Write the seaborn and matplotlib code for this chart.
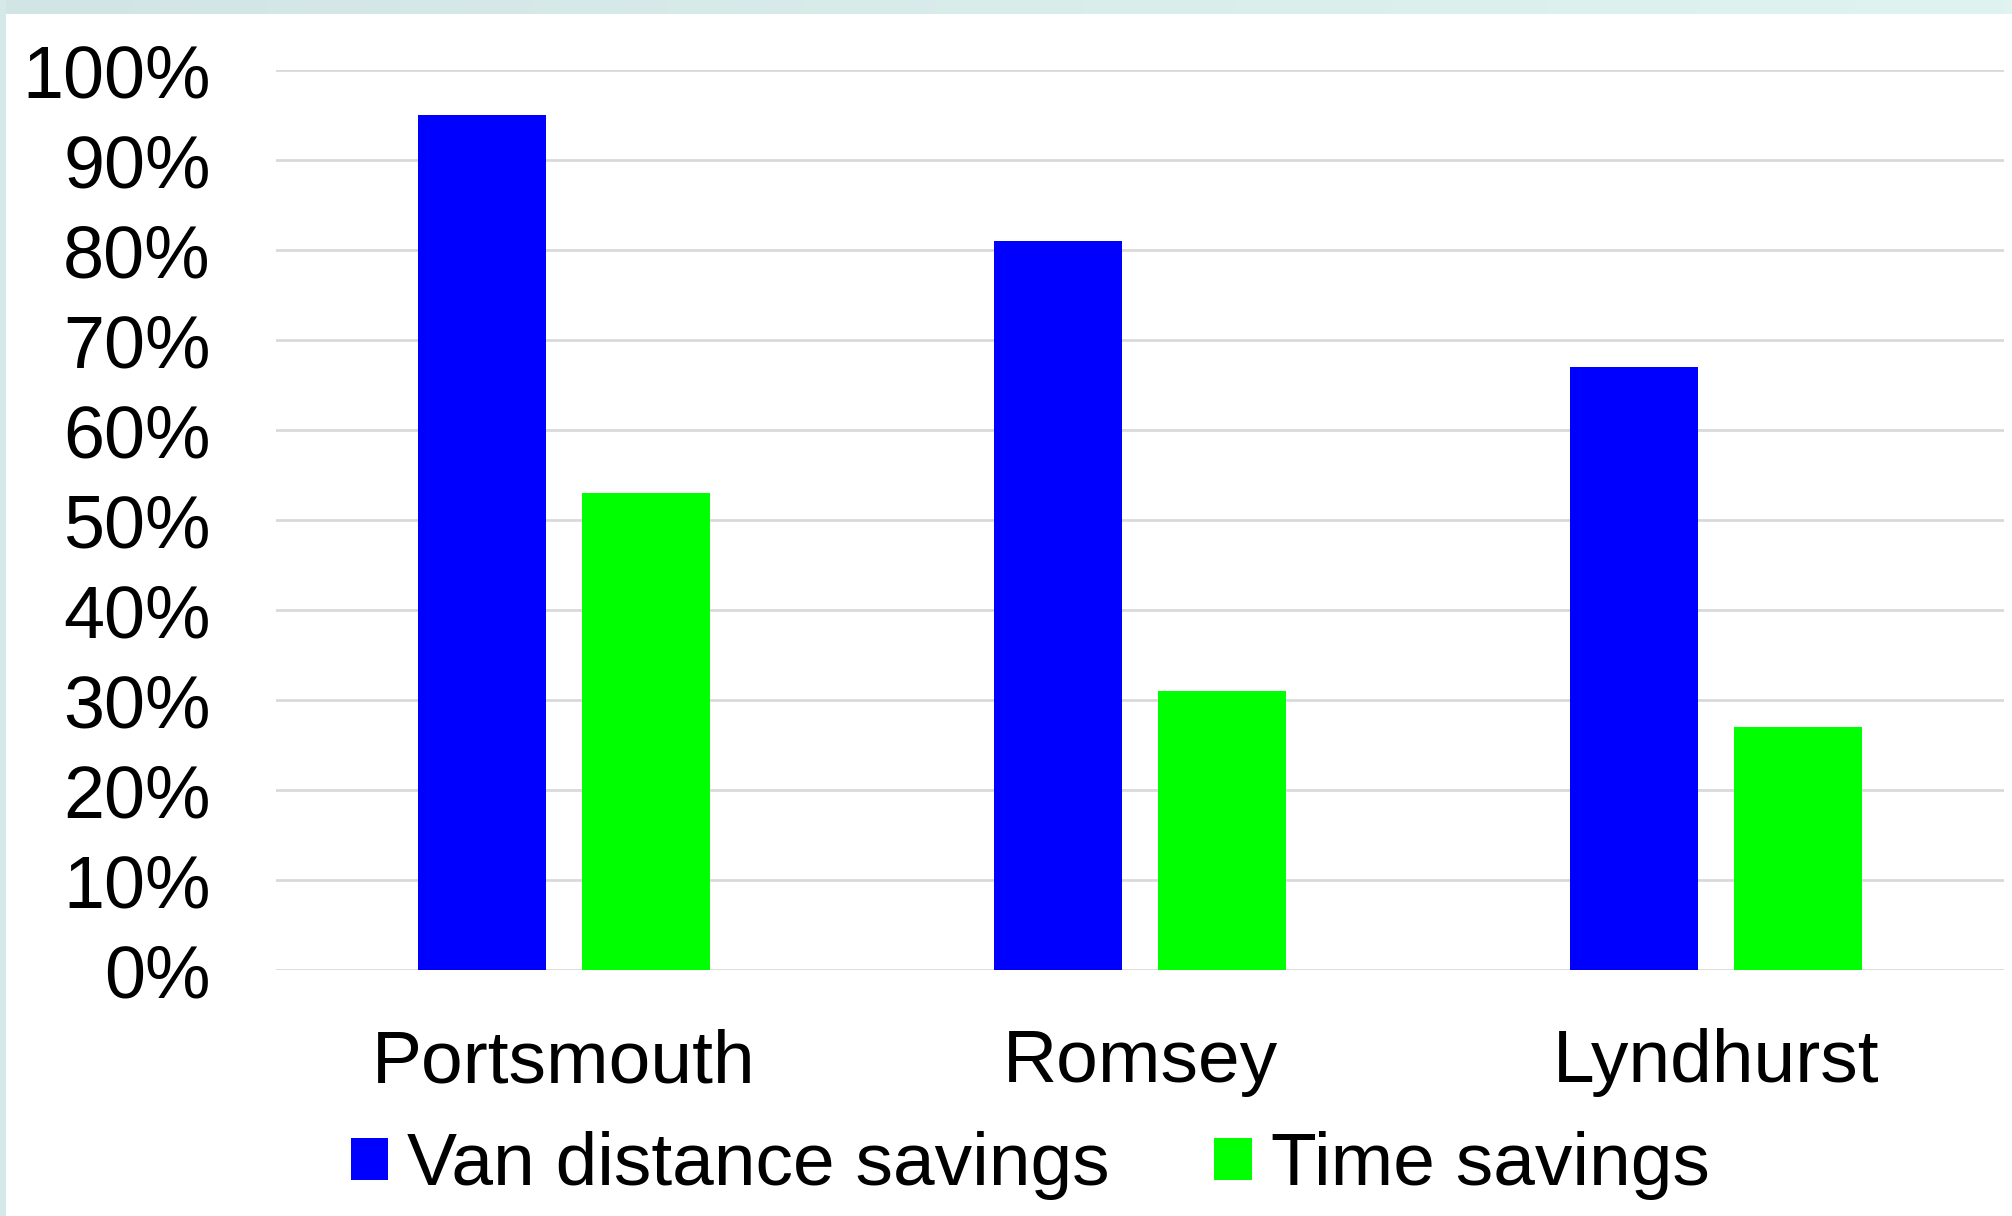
import numpy as np
import pandas as pd
import matplotlib
matplotlib.use("Agg")
import matplotlib.pyplot as plt
import seaborn as sns

# Savings by depot location (percent)
locations = ["Portsmouth", "Romsey", "Lyndhurst"]
van_distance_savings = [95, 81, 67]
time_savings = [53, 31, 27]
series_names = ["Van distance savings", "Time savings"]
y_ticks = [0, 10, 20, 30, 40, 50, 60, 70, 80, 90, 100]

df = pd.DataFrame({
    "Location": locations * 2,
    "Series": [series_names[0]] * len(locations) + [series_names[1]] * len(locations),
    "Value": van_distance_savings + time_savings,
})

sns.set_theme(style="white")
plt.rcParams["font.family"] = ["Liberation Sans", "DejaVu Sans"]
plt.rcParams["text.color"] = "black"

W, H = 2012, 1216
fig = plt.figure(figsize=(W / 100, H / 100), dpi=100, facecolor="white")

# Pale teal frame strips along the top and left edges
top_strip = fig.add_axes([0, 1 - 14 / H, 1, 14 / H])
grad = np.linspace(0, 1, 256)[None, :]
cmap = matplotlib.colors.LinearSegmentedColormap.from_list("strip", ["#d2e5e5", "#dff4f0"])
top_strip.imshow(grad, aspect="auto", cmap=cmap)
top_strip.set_axis_off()
left_strip = fig.add_axes([0, 0, 6 / W, 1])
left_strip.set_facecolor("#d5eae8")
left_strip.set_xticks([])
left_strip.set_yticks([])
for s in left_strip.spines.values():
    s.set_visible(False)

left, right = 276 / W, 2004 / W
bottom, top = 1 - 970 / H, 1 - 70 / H
ax = fig.add_axes([left, bottom, right - left, top - bottom])
ax.set_facecolor("none")

sns.barplot(
    data=df, x="Location", y="Value", hue="Series",
    palette={series_names[0]: "#0000ff", series_names[1]: "#00ff00"},
    saturation=1, width=0.569, gap=0.2195, linewidth=0, ax=ax, zorder=3,
)

ax.set_ylim(0, 100)
ax.set_xlim(-0.5, len(locations) - 0.5)
ax.set_yticks(y_ticks)
ax.set_yticklabels([f"{t}%" for t in y_ticks])
ax.yaxis.grid(True, color="#d9d9d9", linewidth=2.0)
ax.set_axisbelow(True)
for s in ax.spines.values():
    s.set_visible(False)
ax.set_xlabel("")
ax.set_ylabel("")
ax.tick_params(axis="y", length=0, pad=47, labelsize=53, colors="black")
ax.tick_params(axis="x", length=0, pad=42, labelsize=54, colors="black")

handles, labels = ax.get_legend_handles_labels()
ax.get_legend().remove()
fig.legend(
    handles, labels, loc="center", bbox_to_anchor=(1030 / W, 1 - 1166 / H),
    ncol=2, frameon=False, fontsize=54, labelcolor="black",
    handlelength=0.5, handleheight=0.5, handletextpad=0.25, columnspacing=1.4,
    borderaxespad=0, borderpad=0,
)

fig.savefig("out.png", dpi=100, facecolor="white")
